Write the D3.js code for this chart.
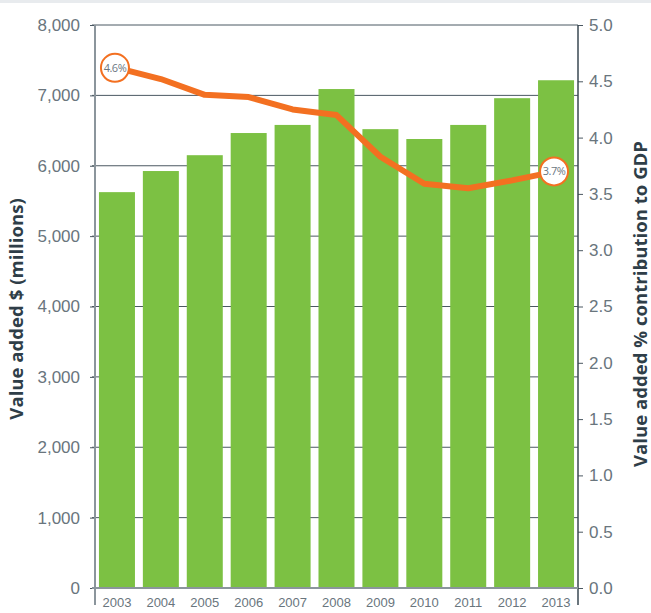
<!DOCTYPE html>
<html>
<head>
<meta charset="utf-8">
<script src="https://cdn.jsdelivr.net/npm/d3@7"></script>
<style>
  body { margin: 0; background: #fff; }
  svg { display: block; font-family: "Open Sans", sans-serif; }
</style>
</head>
<body>
<div id="chart"></div>
<script>
const width = 651
const height = 613

// data
const years = ["2003", "2004", "2005", "2006", "2007", "2008", "2009", "2010", "2011", "2012", "2013"]
const valueAdded = [5625, 5925, 6150, 6465, 6580, 7090, 6520, 6380, 6580, 6960, 7215]
const gdpShare = [4.62, 4.52, 4.38, 4.36, 4.25, 4.2, 3.83, 3.59, 3.55, 3.62, 3.7]
const leftTicks = [0, 1000, 2000, 3000, 4000, 5000, 6000, 7000, 8000]
const rightTicks = [0, 0.5, 1, 1.5, 2, 2.5, 3, 3.5, 4, 4.5, 5]
const labelled = ["2003", "2013"]

const plot = { left: 95, right: 578, top: 25, bottom: 588 }
const green = "#7cc143"
const orange = "#f37021"
const grid = "#4b5862"
const tickText = "#69757d"
const titleText = "#2f3e48"

const svg = d3.select("#chart").append("svg")
    .attr("width", width)
    .attr("height", height)

// thin grey strip along the top of the page
svg.append("rect").attr("x", 0).attr("y", 0).attr("width", width).attr("height", 3).attr("fill", "#e8ebee")

const x = d3.scaleBand().domain(years).range([plot.left, plot.right]).paddingInner(0.18).paddingOuter(0.09)
const yLeft = d3.scaleLinear().domain([0, 8000]).range([plot.bottom, plot.top])
const yRight = d3.scaleLinear().domain([0, 5]).range([plot.bottom, plot.top])

//  GRID  ////////////////////////////////////////////
svg.append("g")
    .selectAll("line")
    .data(leftTicks.filter(d => d > 0))
    .join("line")
    .attr("x1", plot.left - 3)
    .attr("x2", plot.right)
    .attr("y1", d => yLeft(d))
    .attr("y2", d => yLeft(d))
    .attr("stroke", grid)
    .attr("stroke-width", 1)

//  BARS  ////////////////////////////////////////////
svg.append("g")
    .selectAll("rect")
    .data(valueAdded)
    .join("rect")
    .attr("x", (d, i) => x(years[i]))
    .attr("width", x.bandwidth())
    .attr("y", d => yLeft(d))
    .attr("height", d => yLeft(0) - yLeft(d))
    .attr("fill", green)

//  AXES  ////////////////////////////////////////////
const leftAxis = svg.append("g")
    .attr("transform", `translate(${plot.left},0)`)
    .call(d3.axisLeft(yLeft).tickValues(leftTicks).tickSize(5).tickPadding(10).tickFormat(d3.format(",")))
leftAxis.select(".domain").remove()
leftAxis.selectAll(".tick line").attr("stroke", grid)
leftAxis.selectAll("text").attr("fill", tickText).style("font-size", "17px")

const rightAxis = svg.append("g")
    .attr("transform", `translate(${plot.right},0)`)
    .call(d3.axisRight(yRight).tickValues(rightTicks).tickSize(5).tickPadding(6).tickFormat(d3.format(".1f")))
rightAxis.select(".domain").remove()
rightAxis.selectAll(".tick line").attr("stroke", grid)
rightAxis.selectAll("text").attr("fill", tickText).style("font-size", "17px")

// vertical axis lines run a little below the base line
svg.append("line")
    .attr("x1", plot.left).attr("x2", plot.left)
    .attr("y1", plot.top).attr("y2", plot.bottom + 17)
    .attr("stroke", "#8b959c").attr("stroke-width", 2)
svg.append("line")
    .attr("x1", plot.right).attr("x2", plot.right)
    .attr("y1", plot.top).attr("y2", plot.bottom + 17)
    .attr("stroke", "#3a4852").attr("stroke-width", 1.5)
// base line
svg.append("line")
    .attr("x1", plot.left - 3).attr("x2", plot.right)
    .attr("y1", yLeft(0)).attr("y2", yLeft(0))
    .attr("stroke", "#8b959c").attr("stroke-width", 2)

const bottomAxis = svg.append("g")
    .attr("transform", `translate(0,${plot.bottom})`)
    .call(d3.axisBottom(x).tickSize(0).tickPadding(10))
bottomAxis.select(".domain").remove()
bottomAxis.selectAll("text").attr("fill", tickText).style("font-size", "13px")

//  AXIS TITLES  /////////////////////////////////////
svg.append("text")
    .attr("transform", "translate(23,309) rotate(-90)")
    .attr("text-anchor", "middle")
    .attr("fill", titleText)
    .style("font-size", "18.6px")
    .style("font-weight", "bold")
    .text("Value added $ (millions)")
svg.append("text")
    .attr("transform", "translate(647,304) rotate(-90)")
    .attr("text-anchor", "middle")
    .attr("fill", titleText)
    .style("font-size", "18.6px")
    .style("font-weight", "bold")
    .text("Value added % contribution to GDP")

//  LINE  ////////////////////////////////////////////
const lineHelper = d3.line()
    .x((d, i) => x(years[i]) + x.bandwidth() / 2)
    .y(d => yRight(d))

svg.append("path")
    .datum(gdpShare)
    .attr("d", lineHelper)
    .attr("fill", "none")
    .attr("stroke", orange)
    .attr("stroke-width", 6)
    .attr("stroke-linejoin", "round")

const marks = svg.append("g")
    .selectAll("g")
    .data(gdpShare.map((v, i) => ({ year: years[i], v })).filter(d => labelled.includes(d.year)))
    .join("g")
    .attr("transform", d => `translate(${x(d.year) + x.bandwidth() / 2 - 2},${yRight(d.v)})`)
marks.append("circle")
    .attr("r", 14)
    .attr("fill", "#fff")
    .attr("stroke", orange)
    .attr("stroke-width", 2)
marks.append("text")
    .attr("text-anchor", "middle")
    .attr("dy", "0.35em")
    .attr("fill", "#6b777f")
    .style("font-size", "11px")
    .style("letter-spacing", "-0.5px")
    .text(d => d3.format(".1f")(d.v) + "%")
</script>
</body>
</html>
